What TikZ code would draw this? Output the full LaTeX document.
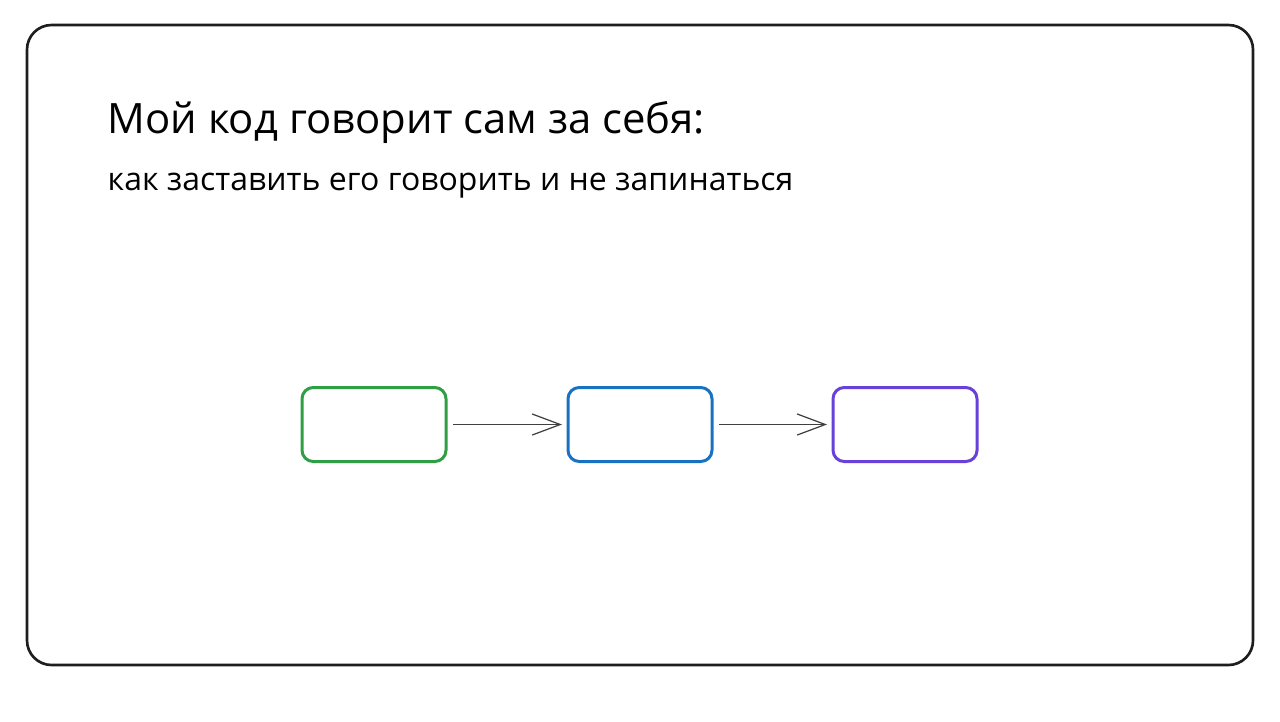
\documentclass[tikz,border=0pt]{standalone}
\usepackage{fontspec}
\setmainfont{Open Sans}
\usetikzlibrary{positioning,arrows.meta}
\definecolor{boxgreen}{HTML}{2F9E44}
\definecolor{boxblue}{HTML}{1971C2}
\definecolor{boxviolet}{HTML}{6741D9}
\definecolor{inkgray}{HTML}{1E1E1E}
\tikzset{
    stagebox/.style={draw, line width=0.85pt, rounded corners=3.2pt, minimum width=1.44cm, minimum height=0.74cm, inner sep=0pt, outer sep=0pt},
    flowarrow/.style={draw=inkgray!85, line width=0.35pt, -{Straight Barb[length=8pt, width=6pt, line width=0.35pt]}, shorten <=0.07cm, shorten >=0.06cm}
}
\begin{document}
\begin{tikzpicture}
        \useasboundingbox (0,0) rectangle (12.80,7.21);
        \fill[white] (0,0) rectangle (12.80,7.21);
        \draw[line width=0.75pt, inkgray, rounded corners=7pt] (0.27,0.56) rectangle (12.53,6.96);
        \node[anchor=base west, inner sep=0pt, font=\fontsize{11.9pt}{14pt}\selectfont] (title) at (1.07,5.88) {Мой код говорит сам за себя:};
        \node[anchor=base west, inner sep=0pt, font=\fontsize{9.1pt}{11pt}\selectfont] (subtitle) at (1.07,5.31) {как заставить его говорить и не запинаться};
        % three boxes in a row
        \node[stagebox, draw=boxgreen] (first) at (3.74,2.965) {};
        \node[stagebox, draw=boxblue, right=1.22cm of first] (second) {};
        \node[stagebox, draw=boxviolet, right=1.21cm of second] (third) {};
        \draw[flowarrow] (first) -- (second);
        \draw[flowarrow] (second) -- (third);
    \end{tikzpicture}
\end{document}
